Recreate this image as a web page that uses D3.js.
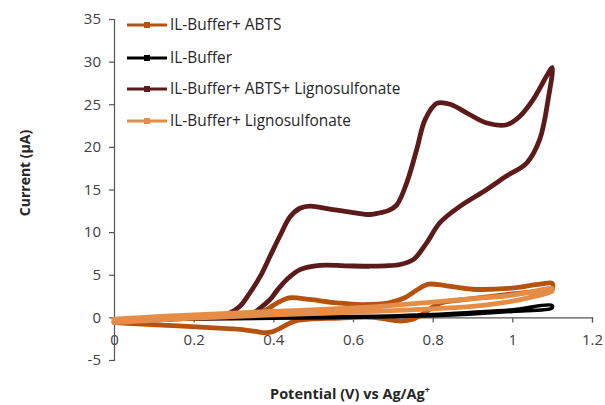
<!DOCTYPE html>
<html><head><meta charset="utf-8">
<script src="https://cdn.jsdelivr.net/npm/d3@7"></script>
<style>body{margin:0;background:#fff;} svg{display:block;}</style>
</head><body>
<svg id="c" width="605" height="405"></svg>
<script>
const seriesNames = ["IL-Buffer+ ABTS","IL-Buffer","IL-Buffer+ ABTS+ Lignosulfonate","IL-Buffer+ Lignosulfonate"];
const seriesColors = ["#B5520E","#000000","#5C1A1B","#E58C47"];

const abtsV = [0,0.1,0.2,0.3,0.35,0.37,0.39,0.41,0.44,0.49,0.56,0.62,0.69,0.73,0.75,0.77,0.79,0.835,0.9,0.99,1.07,1.1,
               1.1,1.05,0.99,0.9,0.82,0.8,0.78,0.75,0.72,0.65,0.55,0.49,0.46,0.44,0.42,0.40,0.38,0.35,0.30,0.24,0.12,0];
const abtsI = [-0.3,-0.1,0,0.1,0.3,0.6,1.1,1.7,2.3,2.1,1.7,1.5,1.7,2.3,2.9,3.5,3.9,3.7,3.3,3.4,3.9,4.0,
               3.4,3.0,2.7,2.2,1.7,1.2,0.55,-0.23,-0.43,0,-0.1,-0.2,-0.35,-0.7,-1.2,-1.65,-1.8,-1.6,-1.35,-1.2,-0.9,-0.6];

const bufV = [0,0.2,0.4,0.6,0.8,0.9,1.0,1.1, 1.1,1.0,0.9,0.8,0.6,0.4,0.2,0];
const bufI = [-0.3,-0.2,-0.1,0,0.2,0.4,0.7,1.1, 1.4,0.9,0.6,0.35,0.1,0,-0.1,-0.2];

const ablV = [0,0.1,0.2,0.25,0.29,0.316,0.34,0.367,0.392,0.417,0.442,0.467,0.492,0.542,0.6,0.643,0.668,0.69,0.71,0.735,0.76,0.781,0.81,0.844,0.885,0.936,0.986,1.019,1.053,1.086,1.1,
              1.09,1.069,1.036,0.986,0.936,0.869,0.818,0.785,0.752,0.718,0.68,0.643,0.58,0.517,0.467,0.434,0.41,0.392,0.37,0.35,0.3,0.2,0.1,0];
const ablI = [-0.5,-0.3,-0.1,0.1,0.5,1.3,2.8,4.8,7.2,9.6,11.8,12.8,13.05,12.7,12.3,12.07,12.27,12.55,13.2,15.8,19.7,23.2,25.1,25.0,24.0,22.8,22.6,23.6,25.6,28.3,29.3,
              25.6,20.9,18.1,16.6,15.0,13.05,11.1,8.75,6.8,6.2,6.05,6.0,6.05,6.1,5.6,4.45,3.2,2.1,1.2,0.55,0.1,-0.1,-0.3,-0.5];

const ligV = [0,0.2,0.4,0.6,0.8,0.9,1.0,1.05,1.1, 1.1,1.05,1.0,0.9,0.8,0.7,0.6,0.4,0.2,0];
const ligI = [-0.6,-0.1,0.3,0.6,1.0,1.3,1.9,2.4,3.1, 3.4,3.0,2.6,2.2,1.8,1.4,1.1,0.7,0.3,-0.2];

const xTicks = [0,0.2,0.4,0.6,0.8,1,1.2];
const yTicks = [-5,0,5,10,15,20,25,30,35];

const allV = [abtsV,bufV,ablV,ligV];
const allI = [abtsI,bufI,ablI,ligI];

const svg = d3.select("#c");
const x = d3.scaleLinear().domain([0,1.2]).range([114,592]);
const y = d3.scaleLinear().domain([-5,35]).range([360,19]);
const font = "'Open Sans', sans-serif";

const xa = svg.append("g").attr("transform",`translate(0,${y(0)})`)
  .call(d3.axisBottom(x).tickValues(xTicks).tickFormat(d=>String(d)).tickSizeOuter(0).tickSize(5).tickPadding(12));
xa.select(".domain").attr("stroke","#555").attr("stroke-width",1.2);
xa.selectAll(".tick line").attr("stroke","#555").attr("stroke-width",1.2);
xa.selectAll("text").attr("font-family",font).attr("font-size",15).attr("fill","#404040");

const ya = svg.append("g").attr("transform",`translate(${x(0)},0)`)
  .call(d3.axisLeft(y).tickValues(yTicks).tickFormat(d=>String(d)).tickSizeOuter(0).tickSize(5).tickPadding(8));
ya.select(".domain").attr("stroke","#555").attr("stroke-width",1.2);
ya.selectAll(".tick line").attr("stroke","#555").attr("stroke-width",1.2);
ya.selectAll("text").attr("font-family",font).attr("font-size",15).attr("fill","#404040");

const line = d3.line().curve(d3.curveCatmullRom.alpha(0.5));
allV.forEach((vs,k)=>{
  const pts = vs.map((v,i)=>[x(v),y(allI[k][i])]);
  svg.append("path").attr("d",line(pts)).attr("fill","none")
    .attr("stroke",seriesColors[k]).attr("stroke-width",k===1?3.5:4.8)
    .attr("stroke-linejoin","round").attr("stroke-linecap","round");
});

const legY = [25,58,89,121];
seriesNames.forEach((n,k)=>{
  const g = svg.append("g");
  g.append("line").attr("x1",127).attr("x2",167).attr("y1",legY[k]).attr("y2",legY[k])
    .attr("stroke",seriesColors[k]).attr("stroke-width",3);
  g.append("rect").attr("x",144).attr("y",legY[k]-3).attr("width",6).attr("height",6).attr("fill",seriesColors[k]);
  g.append("text").attr("x",170).attr("y",legY[k]).attr("dy","0.35em")
    .attr("font-family",font).attr("font-size",15.4).attr("fill","#262626").text(n);
});

svg.append("text").attr("transform","translate(30,173) rotate(-90)").attr("text-anchor","middle")
  .attr("font-family",font).attr("font-size",14).attr("font-weight","bold").attr("fill","#262626")
  .text("Current (μA)");
const xt = svg.append("text").attr("x",350).attr("y",399).attr("text-anchor","middle")
  .attr("font-family",font).attr("font-size",14.5).attr("font-weight","bold").attr("fill","#262626");
xt.append("tspan").text("Potential (V) vs Ag/Ag");
xt.append("tspan").attr("dy",-6).attr("font-size",9).text("+");
</script>
</body></html>
